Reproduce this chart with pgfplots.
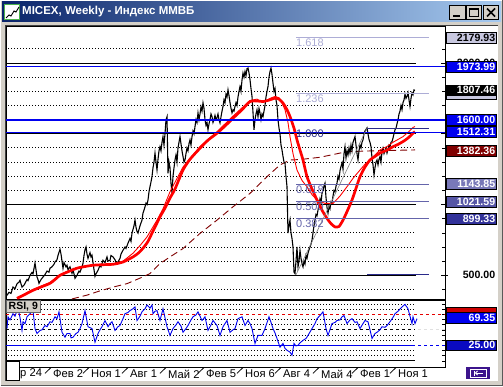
\documentclass[border=0pt]{standalone}
\usepackage{pgfplots}
\pgfplotsset{compat=1.18}
\usepackage{fontspec}
\setmainfont{Liberation Sans}
\definecolor{wingray}{HTML}{D4D0C8}
\definecolor{titleL}{HTML}{0A246A}
\definecolor{titleR}{HTML}{A6CAF0}
\definecolor{mablue}{HTML}{0000F0}
\definecolor{dred}{HTML}{800000}
\definecolor{fiblight}{HTML}{ADADD6}
\definecolor{fibmid}{HTML}{6464AA}
\definecolor{fibdark}{HTML}{2A2A8A}
\definecolor{lblA}{HTML}{7878B8}
\definecolor{lblB}{HTML}{5656A6}
\definecolor{lblC}{HTML}{32329A}
\definecolor{lavbox}{HTML}{C8C8E0}
\definecolor{rsidark}{HTML}{0A0AC0}
\definecolor{btnpurple}{HTML}{3C148C}
\definecolor{mared}{HTML}{FF0000}
\tikzset{
  lbl/.style={draw=black, line width=0.6pt, anchor=west, text width=48pt, align=right,
    inner xsep=1.1pt, inner ysep=0pt, minimum height=10.8pt,
    font=\bfseries\fontsize{10.6}{10.6}\selectfont},
  fibl/.style={anchor=north west, inner sep=0pt, font=\fontsize{11}{11}\selectfont},
  btn/.style={fill=wingray, draw=black, line width=0.5pt},
  xl/.style={anchor=west, inner sep=0pt, font=\fontsize{11.2}{11.2}\selectfont, yshift=-6.5pt},
  gdot/.style={black, line width=0.9pt, dash pattern=on 0.9pt off 2.1pt}
}
\begin{document}
\begin{tikzpicture}[x=1pt,y=1pt]
% window
\fill[wingray] (0,0) rectangle (503,386);
\draw[white, line width=1pt] (0.5,0.5) -- (0.5,385.5) -- (502.5,385.5);
\draw[gray!70!black, line width=1pt] (0.5,0.5) -- (502.5,0.5) -- (502.5,385.5);
\shade[left color=titleL, right color=titleR] (2,364) rectangle (501,384);
% icon
\fill[white] (4,366) rectangle (20,382);
\draw[green!40!gray, line width=1pt] (4.5,366.5) rectangle (19.5,381.5);
\draw[black, line width=0.9pt] (6,368) -- (9,371) -- (11,370) -- (14,375) -- (16,374) -- (19,379);
\node[anchor=west, text=white, inner sep=0pt, font=\bfseries\fontsize{11.5}{12}\selectfont] at (22,374) {MICEX, Weekly - Индекс ММВБ};
% buttons
\draw[btn] (449.5,366.5) rectangle (465.5,380.5);
\draw[black, line width=2pt] (453,370) -- (460,370);
\draw[btn] (466.5,366.5) rectangle (481.5,380.5);
\draw[black, line width=0.9pt] (469.5,369.5) rectangle (478.5,377.5);
\draw[black, line width=2pt] (469.5,377) -- (478.5,377);
\draw[btn] (483.5,366.5) rectangle (498.5,380.5);
\draw[black, line width=1.6pt] (487,369.5) -- (495,377.5) (487,377.5) -- (495,369.5);
% inner white panel
\fill[white] (5,5) rectangle (498,361);
\draw[black!75, line width=0.8pt] (5,5) -- (5,361) -- (498,361);

% ================= MAIN PRICE PANEL =================
\begin{axis}[
  at={(6pt,87pt)}, anchor=south west, scale only axis,
  width=439pt, height=273pt,
  xmin=6, xmax=445, ymin=332.5, ymax=2261.8,
  xtick=\empty, ytick=\empty, clip=false,
  axis line style={black, line width=0.8pt},
]
% dotted grid
\pgfplotsinvokeforeach{400,600,700,800,900,1100,1200,1300,1400,1600,1700,1800,1900,2100}{
  \draw[gdot] (axis cs:8,#1) -- (axis cs:415,#1);
  \draw[black, line width=0.6pt] (axis cs:442,#1) -- (axis cs:445,#1);
}
\pgfplotsinvokeforeach{500,1000,1500,2000}{
  \draw[black, line width=0.9pt] (axis cs:6,#1) -- (axis cs:416,#1);
  \draw[black, line width=0.6pt] (axis cs:441,#1) -- (axis cs:448,#1);
}
% long moving average (dark red dashed)
\addplot[dred, line width=0.9pt, dash pattern=on 7pt off 4pt] coordinates {
(72,333) (87,360) (100,390) (115,420) (127,441) (140,480) (150,512) (160,583) (170,630)
(183,689) (200,796) (217,890) (233,984) (250,1079) (267,1197) (280,1280) (290,1315)
(300,1318) (320,1334) (347,1374) (380,1381) (415,1386)};
% price (weekly close)
\addplot[black, line width=1.1pt] coordinates {
(7,358) (9,380) (11,372) (13,417) (15,405) (17,440) (19,452) (20,465) (21,440) (22,417)
(24,430) (25,443) (27,470) (28,462) (30,500) (32,520) (33,510) (35,587) (36,540) (37,488)
(38,470) (39,443) (41,470) (43,488) (45,505) (47,530) (49,522) (50,550) (52,560) (54,578)
(55,594) (57,610) (58,640) (60,684) (61,650) (62,600) (63,550) (64,590) (66,560) (67,571)
(68,540) (70,560) (72,514) (73,540) (75,479) (77,500) (79,530) (80,523) (82,560) (83,585)
(84,640) (85,680) (86,700) (87,650) (88,620) (90,660) (91,630) (92,642) (93,590) (94,540)
(95,493) (96,510) (98,535) (100,570) (101,560) (103,606) (105,590) (107,630) (108,600) (110,606)
(111,640) (113,630) (115,610) (116,590) (118,594) (120,620) (121,650) (123,677) (125,700) (126,690)
(128,727) (130,760) (131,740) (132,798) (134,850) (135,890) (136,840) (137,810) (138,798) (140,850)
(141,870) (142,890) (143,940) (144,960) (145,984) (146,1010) (147,1000) (148,1032) (149,1090) (150,1126)
(151,1160) (152,1197) (153,1260) (154,1300) (155,1364) (156,1300) (157,1244) (158,1320) (159,1380) (160,1409)
(161,1380) (162,1440) (163,1480) (164,1420) (165,1500) (166,1598) (167,1620) (168,1221) (169,1300) (170,1260)
(171,1150) (172,1080) (173,1200) (174,1260) (175,1315) (176,1350) (177,1300) (178,1400) (179,1440) (180,1480)
(181,1430) (182,1380) (183,1340) (184,1300) (185,1315) (186,1360) (187,1400) (188,1380) (189,1430) (190,1457)
(191,1420) (192,1480) (193,1520) (194,1500) (195,1551) (196,1600) (197,1580) (198,1648) (199,1600) (200,1640)
(201,1690) (202,1660) (203,1719) (204,1680) (205,1600) (206,1560) (207,1580) (208,1528) (209,1570) (210,1600)
(211,1640) (212,1622) (213,1580) (214,1600) (215,1630) (216,1600) (217,1613) (218,1640) (219,1600) (220,1577)
(221,1620) (222,1660) (223,1693) (224,1740) (225,1720) (226,1780) (227,1760) (228,1811) (229,1770) (230,1720)
(231,1680) (232,1648) (233,1670) (234,1660) (235,1693) (236,1720) (237,1700) (238,1760) (239,1800) (240,1834)
(241,1800) (242,1880) (243,1929) (244,1900) (245,1940) (246,1910) (247,1960) (248,1965) (249,1930) (250,1882)
(251,1820) (252,1764) (253,1650) (254,1528) (255,1600) (256,1640) (257,1670) (258,1620) (259,1680) (260,1648)
(261,1600) (262,1640) (263,1622) (264,1660) (265,1700) (266,1760) (267,1800) (268,1834) (269,1900) (270,1940)
(271,1965) (272,1920) (273,1858) (274,1800) (275,1820) (276,1740) (277,1700) (278,1598) (279,1540) (280,1500)
(281,1420) (282,1386) (283,1340) (284,1300) (285,1292) (286,1200) (287,1126) (288,798) (289,850) (290,890)
(291,800) (292,760) (293,700) (294,523) (295,512) (296,600) (297,700) (298,560) (299,600) (300,677)
(301,620) (302,580) (303,559) (304,600) (305,580) (306,640) (307,620) (308,656) (309,680) (310,700)
(311,720) (312,748) (313,800) (314,850) (315,890) (316,930) (317,920) (318,961) (319,1000) (320,1040)
(321,1010) (322,1080) (323,1100) (324,1130) (325,1151) (326,1050) (327,980) (328,939) (329,990) (330,970)
(331,1020) (332,1010) (333,1060) (334,1100) (335,1090) (336,1130) (337,1151) (338,1200) (339,1180) (340,1240)
(341,1270) (342,1294) (343,1250) (344,1360) (345,1409) (346,1330) (347,1380) (348,1350) (349,1400) (350,1364)
(351,1420) (352,1380) (353,1440) (354,1460) (355,1480) (356,1420) (357,1360) (358,1315) (359,1380) (360,1420)
(361,1400) (362,1440) (363,1457) (364,1500) (365,1520) (366,1530) (367,1542) (368,1500) (369,1460) (370,1440)
(371,1409) (372,1330) (373,1280) (374,1209) (375,1260) (376,1300) (377,1315) (378,1280) (379,1320) (380,1339)
(381,1300) (382,1370) (383,1398) (384,1360) (385,1380) (386,1400) (387,1364) (388,1390) (389,1420) (390,1410)
(391,1440) (392,1445) (393,1470) (394,1500) (395,1528) (396,1540) (397,1570) (398,1598) (399,1640) (400,1660)
(401,1700) (402,1670) (403,1720) (404,1740) (405,1780) (406,1750) (407,1764) (408,1790) (409,1740) (410,1693)
(411,1750) (412,1790) (413,1776) (414,1810) (415,1807)};
% thin red MA
\addplot[mared, line width=0.9pt] coordinates {
(17,340) (33,400) (50,450) (60,505) (77,555) (93,572) (113,580) (123,600) (133,656) (140,710)
(147,771) (152,830) (157,890) (163,970) (170,1090) (183,1265) (200,1410) (217,1515) (233,1625)
(250,1735) (257,1745) (263,1722) (270,1750) (275,1764) (279,1755) (282,1717) (285,1670) (288,1580)
(290,1480) (293,1360) (297,1244) (302,1170) (307,1126) (312,1070) (317,1032) (325,1008) (333,1008)
(340,1060) (347,1126) (353,1185) (360,1244) (365,1285) (370,1315) (375,1350) (380,1386) (387,1410)
(393,1440) (398,1460) (403,1480) (408,1510) (413,1545) (415,1551)};
% thick red MA
\addplot[mared, line width=2.7pt, smooth, tension=0.4] coordinates {
(17,337) (25,365) (33,394) (42,420) (50,443) (55,470) (60,500) (68,525) (77,550) (85,562)
(93,571) (103,575) (113,578) (123,594) (133,630) (138,655) (143,691) (148,740) (152,798)
(156,855) (160,913) (165,975) (170,1046) (175,1110) (183,1244) (190,1320) (200,1398) (208,1455)
(217,1504) (225,1555) (233,1610) (242,1670) (250,1728) (257,1732) (263,1728) (270,1740)
(275,1752) (279,1745) (283,1717) (287,1670) (290,1622) (294,1540) (297,1457) (300,1385)
(303,1315) (307,1197) (312,1110) (317,1032) (322,960) (327,902) (331,865) (335,842) (339,845)
(343,890) (347,950) (352,1032) (356,1115) (360,1197) (365,1265) (370,1315) (375,1340)
(380,1364) (387,1385) (393,1409) (398,1425) (403,1445) (408,1470) (413,1504) (415,1515)};
% horizontal levels
\addplot[mablue, line width=0.9pt] coordinates {(6,1973.99) (445,1973.99)};
\addplot[mablue, line width=2.2pt] coordinates {(6,1600) (445,1600)};
\addplot[mablue, line width=0.9pt] coordinates {(6,1512.31) (445,1512.31)};
% fibonacci
\addplot[fiblight, line width=0.9pt] coordinates {(296,2179.93) (429,2179.93)};
\addplot[fiblight, line width=0.9pt] coordinates {(296,1784.5) (429,1784.5)};
\addplot[fibdark, line width=0.9pt] coordinates {(367,1540) (429,1540)};
\addplot[fibmid, line width=0.9pt] coordinates {(296,1143.85) (429,1143.85)};
\addplot[fibmid, line width=0.9pt] coordinates {(296,1021.59) (429,1021.59)};
\addplot[fibmid, line width=0.9pt] coordinates {(296,899.33) (429,899.33)};
\addplot[fibdark, line width=0.9pt] coordinates {(367,503.5) (429,503.5)};
\addplot[gray, line width=0.6pt] coordinates {(296,503.5) (367,1540)};
\node[fibl, text=fiblight] at (axis cs:296,2172) {1.618};
\node[fibl, text=fiblight] at (axis cs:296,1777) {1.236};
\node[fibl, text=fibdark] at (axis cs:296,1532) {1.000};
\node[fibl, text=fibmid] at (axis cs:296,1136) {0.618};
\node[fibl, text=fibmid] at (axis cs:296,1014) {0.500};
\node[fibl, text=fibmid] at (axis cs:296,892) {0.382};
% price labels on the right
\node[lbl, fill=lavbox, text=black] at (axis cs:445.8,2179.93) {2179.93};
\node[lbl, draw=none, fill=none, text=black] at (axis cs:445.8,2000) {2000.00};
\node[lbl, fill=mablue, text=white] at (axis cs:445.8,1973.99) {1973.99};
\node[lbl, fill=lavbox, text=black] at (axis cs:445.8,1784.5) {};
\node[lbl, fill=black, text=white] at (axis cs:445.8,1807.46) {1807.46};
\node[lbl, fill=mared, text=white] at (axis cs:445.8,1551) {};
\node[lbl, fill=mablue, text=white] at (axis cs:445.8,1600) {1600.00};
\node[lbl, fill=mablue, text=white] at (axis cs:445.8,1512.31) {1512.31};
\node[lbl, fill=dred, text=white] at (axis cs:445.8,1382.36) {1382.36};
\node[lbl, fill=lblA, text=white] at (axis cs:445.8,1143.85) {1143.85};
\node[lbl, draw=none, fill=none, text=black] at (axis cs:445.8,1000) {1000.00};
\node[lbl, fill=lblB, text=white] at (axis cs:445.8,1021.59) {1021.59};
\node[lbl, fill=lblC, text=white] at (axis cs:445.8,899.33) {899.33};
\node[lbl, draw=none, fill=none, text=black] at (axis cs:445.8,500) {500.00};
\end{axis}

% ================= RSI PANEL =================
\begin{axis}[
  at={(6pt,18.5pt)}, anchor=south west, scale only axis,
  width=439pt, height=67.5pt,
  xmin=6, xmax=445, ymin=-10.8, ymax=98.1,
  xtick=\empty, ytick=\empty, clip=false,
  axis line style={black, line width=0.8pt},
]
\pgfplotsinvokeforeach{8.33,16.67,33.33,41.67,58.33,66.67,83.33,91.67}{
  \draw[gdot] (axis cs:8,#1) -- (axis cs:415,#1);
  \draw[black, line width=0.6pt] (axis cs:442,#1) -- (axis cs:445,#1);
}
\pgfplotsinvokeforeach{0,25,50,75}{
  \draw[black, line width=0.6pt] (axis cs:442,#1) -- (axis cs:445,#1);
}
\addplot[red!90!black, line width=0.8pt, dash pattern=on 3pt off 3pt] coordinates {(6,75) (445,75)};
\addplot[black, line width=0.8pt, dash pattern=on 3pt off 3pt] coordinates {(6,50) (415,50)};
\addplot[black!12, line width=0.8pt, dash pattern=on 3pt off 3pt] coordinates {(418,50) (445,50)};
\addplot[mablue, line width=0.9pt] coordinates {(6,25) (415,25)};
\addplot[mablue, line width=0.9pt, dash pattern=on 3pt off 3pt] coordinates {(418,25) (445,25)};
\addplot[black, line width=0.9pt] coordinates {(6,0) (415,0)};
\addplot[mablue, line width=0.9pt] coordinates {
(7,52) (8,71) (10,66) (13,76) (15,72) (17,81) (18,84) (20,70) (22,49) (23,63) (25,60) (27,71)
(30,76) (33,81) (35,52) (37,44) (40,49) (42,50) (45,57) (47,55) (50,63) (52,62) (55,71) (57,68)
(59,79) (62,46) (65,38) (67,44) (70,44) (71,37) (73,38) (76,44) (78,46) (80,52) (82,60) (85,81)
(88,55) (92,52) (95,30) (98,44) (100,50) (102,55) (105,65) (108,55) (110,60) (112,63) (115,49)
(118,55) (120,57) (123,68) (125,76) (128,78) (130,81) (133,84) (135,87) (137,65) (140,72) (142,79)
(145,84) (147,90) (150,85) (152,90) (153,76) (155,80) (157,81) (160,65) (163,84) (167,55) (170,41)
(173,52) (176,58) (178,63) (181,56) (183,46) (186,52) (188,57) (191,66) (193,71) (196,74) (198,79)
(202,65) (205,71) (208,49) (211,58) (213,65) (217,57) (220,41) (223,55) (227,65) (230,46) (233,50)
(235,52) (238,68) (242,71) (245,57) (248,65) (250,60) (252,52) (255,28) (258,41) (262,41) (265,52)
(269,71) (271,62) (273,52) (275,45) (277,36) (280,22) (283,28) (285,20) (287,17) (290,14) (292,9)
(294,28) (296,24) (298,25) (300,29) (303,33) (306,36) (308,41) (312,52) (315,60) (317,68) (320,73)
(323,79) (326,52) (328,41) (332,60) (335,62) (337,65) (340,66) (342,71) (344,73) (347,60) (350,66)
(352,68) (355,62) (357,63) (360,52) (363,60) (365,65) (368,63) (370,50) (372,36) (375,44) (377,46)
(380,50) (382,55) (385,54) (387,57) (390,63) (393,70) (395,76) (398,80) (402,87) (405,91) (408,84)
(410,72) (412,60) (413,71) (415,60) (417,68)};
% right RSI labels
\node[lbl, fill=red!80!black, text=white] at (axis cs:445.8,78) {};
\node[lbl, fill=mablue, text=white] at (axis cs:445.8,69.35) {69.35};
\node[lbl, fill=rsidark, text=white] at (axis cs:445.8,25) {25.00};
% RSI name box
\node[anchor=north west, fill=wingray, draw=black!60, line width=0.6pt, minimum width=34pt,
  minimum height=12pt, inner sep=0pt, font=\bfseries\fontsize{10.5}{10.5}\selectfont]
  at (axis cs:6,98.1) {RSI, 9};
% time axis labels
\pgfplotsinvokeforeach{51,89,128,166,204,243,281,319,358,396}{
  \draw[black, line width=0.8pt] (axis cs:#1,-10.8) -- ++(0,-12.5pt);
}
\node[xl] at (axis cs:20,-10.8) {р 24};
\node[xl] at (axis cs:53,-10.8) {Фев 2};
\node[xl] at (axis cs:91,-10.8) {Ноя 1};
\node[xl] at (axis cs:130,-10.8) {Авг 1};
\node[xl] at (axis cs:168,-10.8) {Май 2};
\node[xl] at (axis cs:206,-10.8) {Фев 5};
\node[xl] at (axis cs:245,-10.8) {Ноя 6};
\node[xl] at (axis cs:283,-10.8) {Авг 4};
\node[xl] at (axis cs:321,-10.8) {Май 4};
\node[xl] at (axis cs:360,-10.8) {Фев 1};
\node[xl] at (axis cs:398,-10.8) {Ноя 1};
\end{axis}
% bottom-left box and bottom-right button
\draw[black, line width=0.8pt, fill=white] (6,6) rectangle (19,25);
\fill[btnpurple] (466,7) rectangle (490,19);
\draw[white, line width=0.7pt] (470,9) rectangle (486,17);
\draw[white, line width=0.8pt] (474,10.5) -- (474,15.5);
\draw[white, line width=0.8pt] (475.5,13) -- (483,13);
\draw[white, line width=0.8pt] (477.5,15) -- (475.5,13) -- (477.5,11);
\end{tikzpicture}
\end{document}
